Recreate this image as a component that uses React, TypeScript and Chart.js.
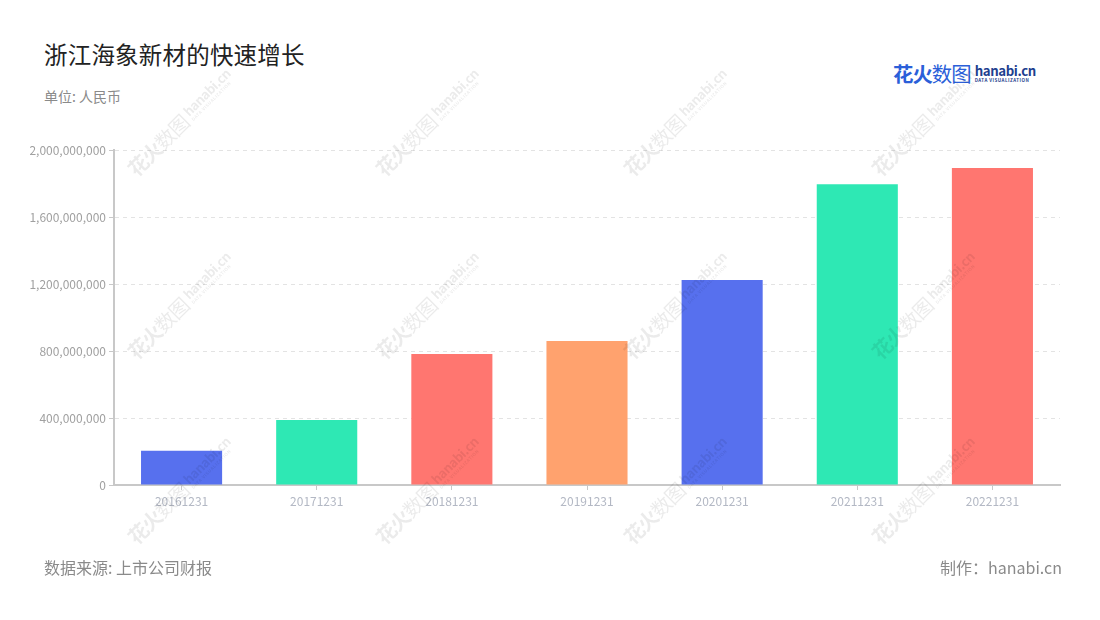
import React, { useEffect, useRef } from "react";
import { Chart, registerables } from "chart.js";

Chart.register(...registerables);

const categories = ["20161231", "20171231", "20181231", "20191231", "20201231", "20211231", "20221231"];
const values = [205000000, 388000000, 782000000, 860000000, 1224000000, 1797000000, 1893000000];
const barColors = ["#5770EE", "#2EE8B4", "#FF7670", "#FFA26E", "#5770EE", "#2EE8B4", "#FF7670"];
const yTicks = [0, 400000000, 800000000, 1200000000, 1600000000, 2000000000];

const FONT = '"Noto Sans CJK SC", "Noto Sans", sans-serif';

const watermarkSpots: [number, number][] = [];
[122, 305, 490].forEach((y) => {
  [180, 428, 676, 924].forEach((x) => watermarkSpots.push([x, y]));
});

function Logo({ color1, color2, scale }: { color1: string; color2: string; scale: number }) {
  return (
    <div style={{ display: "flex", alignItems: "center", whiteSpace: "nowrap" }}>
      <span style={{ fontSize: 20 * scale, fontWeight: 700, color: color1, letterSpacing: -1 }}>花火</span>
      <span style={{ fontSize: 20 * scale, fontWeight: 400, color: color1, letterSpacing: -1 }}>数图</span>
      <div style={{ marginLeft: 4 * scale, display: "flex", flexDirection: "column", lineHeight: 1 }}>
        <span style={{ fontSize: 13 * scale, fontWeight: 700, color: color2, letterSpacing: -0.4 }}>hanabi.cn</span>
        <span
          style={{
            fontSize: 4.4 * scale,
            fontWeight: 700,
            color: color2,
            letterSpacing: 0.5,
            marginTop: 1,
          }}
        >
          DATA VISUALIZATION
        </span>
      </div>
    </div>
  );
}

export default function App() {
  const canvasRef = useRef<HTMLCanvasElement | null>(null);

  useEffect(() => {
    if (!canvasRef.current) return;
    const chart = new Chart(canvasRef.current, {
      type: "bar",
      data: {
        labels: categories,
        datasets: [
          {
            data: values,
            backgroundColor: barColors,
            borderWidth: 0,
            barPercentage: 0.6,
            categoryPercentage: 1,
          },
        ],
      },
      options: {
        animation: false,
        responsive: false,
        maintainAspectRatio: false,
        layout: { padding: { left: 0, right: 40, top: 10, bottom: 0 } },
        plugins: { legend: { display: false }, tooltip: { enabled: false } },
        scales: {
          x: {
            offset: true,
            grid: {
              offset: false,
              drawOnChartArea: false,
              drawTicks: true,
              tickLength: 5,
              color: "#c8c8c8",
            },
            border: { display: true, color: "#c8c8c8", width: 2 },
            ticks: {
              color: "#b3b8c4",
              font: { family: FONT, size: 12 },
              padding: 4,
              maxRotation: 0,
            },
            afterFit: (s: any) => {
              s.height = 35;
            },
          },
          y: {
            min: 0,
            max: 2000000000,
            afterBuildTicks: (s: any) => {
              s.ticks = yTicks.map((v) => ({ value: v }));
            },
            grid: {
              color: "#e3e3e3",
              tickColor: "#c8c8c8",
              tickLength: 5,
              drawTicks: true,
              tickBorderDash: [],
            },
            border: { display: true, color: "#c8c8c8", width: 2, dash: [4, 4] },
            ticks: {
              color: "#a0a0a0",
              font: { family: FONT, size: 12 },
              padding: 3,
              callback: (v: any) => Number(v).toLocaleString("en-US"),
            },
            afterFit: (s: any) => {
              s.width = 114;
            },
          },
        },
      },
    });
    return () => chart.destroy();
  }, []);

  return (
    <div
      style={{
        position: "absolute",
        left: 0,
        top: 0,
        width: 1100,
        height: 620,
        background: "#fff",
        overflow: "hidden",
        fontFamily: FONT,
      }}
    >
      <div style={{ position: "absolute", left: 44, top: 37, fontSize: 23.5, color: "#222", letterSpacing: 0.2 }}>
        浙江海象新材的快速增长
      </div>
      <div style={{ position: "absolute", left: 44, top: 86, fontSize: 14, color: "#8a8a8a" }}>单位: 人民币</div>

      <div style={{ position: "absolute", left: 893, top: 58 }}>
        <Logo color1="#2b5fd9" color2="#1f3f8f" scale={1.02} />
      </div>

      <canvas
        ref={canvasRef}
        width={1100}
        height={380}
        style={{ position: "absolute", left: 0, top: 140, width: 1100, height: 380 }}
      />

      {watermarkSpots.map(([x, y], i) => (
        <div
          key={i}
          style={{
            position: "absolute",
            left: x - 80,
            top: y - 15,
            width: 160,
            height: 30,
            display: "flex",
            justifyContent: "center",
            alignItems: "center",
            transform: "rotate(-45deg)",
            opacity: 0.08,
            pointerEvents: "none",
          }}
        >
          <Logo color1="#000" color2="#000" scale={1.0} />
        </div>
      ))}

      <div style={{ position: "absolute", left: 44, top: 555, fontSize: 16, color: "#8a8a8a" }}>数据来源: 上市公司财报</div>
      <div style={{ position: "absolute", right: 38, top: 555, fontSize: 16, color: "#8a8a8a" }}>制作：hanabi.cn</div>
    </div>
  );
}
